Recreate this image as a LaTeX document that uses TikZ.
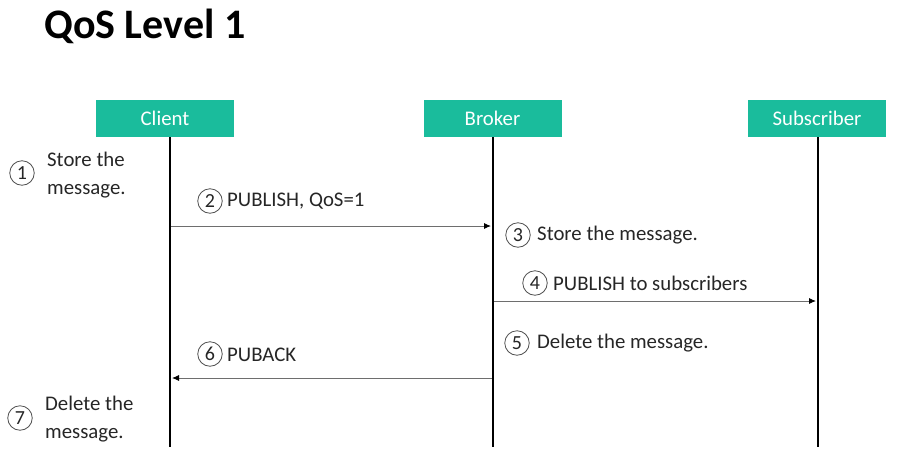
\documentclass[tikz,border=0pt]{standalone}
\usepackage{fontspec}
\setmainfont{Carlito}
\usetikzlibrary{arrows.meta}
\definecolor{tealbox}{RGB}{26,188,156}
\definecolor{txt}{RGB}{38,38,38}
\definecolor{msggray}{RGB}{110,110,110}
\begin{document}
\begin{tikzpicture}[x=1pt,y=-1pt,
  actor/.style={fill=tealbox,minimum width=138pt,minimum height=37pt,inner sep=0pt,text=white,font=\fontsize{20.8}{24}\selectfont},
  life/.style={line width=2.3pt,black},
  msg/.style={draw=msggray,line width=0.9pt,-{Latex[length=7pt,width=6pt,color=black]}},
  num/.style={circle,draw=txt!80,line width=0.8pt,minimum size=24.5pt,inner sep=0pt,text=txt,font=\fontsize{20}{22}\selectfont},
  lbl/.style={anchor=west,inner sep=0pt,text=txt,align=left,font=\fontsize{20.8}{28}\selectfont}]
\useasboundingbox (0,0) rectangle (899,466);
% title
\node[anchor=west,inner sep=0pt,font=\fontsize{42}{46}\selectfont\bfseries] (title) at (44,26) {QoS Level 1};
% actors
\node[actor] (client) at (165,118.5) {Client};
\node[actor] (broker) at (492.5,118.5) {Broker};
\node[actor] (sub) at (817,118.5) {Subscriber};
% lifelines
\coordinate (clientTop) at (170,137);
\coordinate (clientEnd) at (170,447);
\coordinate (brokerTop) at (493,137);
\coordinate (brokerEnd) at (493,447);
\coordinate (subTop) at (818,137);
\coordinate (subEnd) at (818,447);
\draw[life] (clientTop) -- (clientEnd);
\draw[life] (brokerTop) -- (brokerEnd);
\draw[life] (subTop) -- (subEnd);
% messages
\coordinate (m1s) at (171,226);
\coordinate (m1e) at (491,226);
\coordinate (m2s) at (494,301);
\coordinate (m2e) at (816,301);
\coordinate (m3s) at (492,378);
\coordinate (m3e) at (172,378);
\draw[msg] (m1s) -- (m1e);
\draw[msg] (m2s) -- (m2e);
\draw[msg] (m3s) -- (m3e);
% steps
\node[num] (n1) at (22,173) {1};
\node[lbl] (t1) at (47,175.5) {Store the\\message.};
\node[num] (n2) at (210,201) {2};
\node[lbl] (t2) at (227,201.5) {PUBLISH, QoS=1};
\node[num] (n3) at (518,235) {3};
\node[lbl] (t3) at (537,235.5) {Store the message.};
\node[num] (n4) at (535,283) {4};
\node[lbl] (t4) at (553,283.5) {PUBLISH to subscribers};
\node[num] (n5) at (517,343) {5};
\node[lbl] (t5) at (537,343.5) {Delete the message.};
\node[num] (n6) at (210,354) {6};
\node[lbl] (t6) at (227,354.5) {PUBACK};
\node[num] (n7) at (20,418) {7};
\node[lbl] (t7) at (45,419.5) {Delete the\\message.};
\end{tikzpicture}
\end{document}
